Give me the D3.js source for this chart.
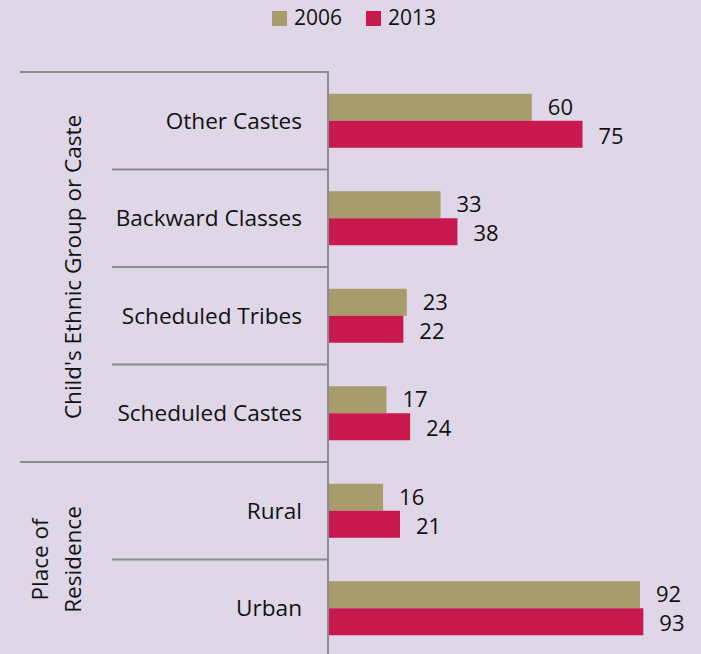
<!DOCTYPE html>
<html>
<head>
<meta charset="utf-8">
<script src="https://cdn.jsdelivr.net/npm/d3@7"></script>
<style>
  html, body { margin: 0; padding: 0; background: #dfd7e7; }
  svg text { font-family: "Open Sans", "Noto Sans", sans-serif; fill: #111; }
</style>
</head>
<body>
<div id="chart"></div>
<script>
// chart data
var categories = ["Other Castes", "Backward Classes", "Scheduled Tribes", "Scheduled Castes", "Rural", "Urban"];
var values2006 = [60, 33, 23, 17, 16, 92];
var values2013 = [75, 38, 22, 24, 21, 93];
var seriesNames = ["2006", "2013"];
var groupNames = [["Child's Ethnic Group or Caste"], ["Place of", "Residence"]];
var groupSizes = [4, 2];

var width = 701, height = 654;
var colors = ["#a89c6c", "#c8194f"];

var svg = d3.select("#chart").append("svg")
  .attr("width", width)
  .attr("height", height);

// scales
var x = d3.scaleLinear().domain([0, 100]).range([329, 667]);
var y = d3.scaleBand().domain(categories).range([72, 657]);
var inner = d3.scaleBand().domain(seriesNames).range([0, 54]);
var pad = (y.bandwidth() - 54) / 2;

// legend
var legend = svg.append("g");
var legendX = [272, 366];
seriesNames.forEach(function (s, i) {
  legend.append("rect")
    .attr("x", legendX[i]).attr("y", 11)
    .attr("width", 15).attr("height", 15)
    .attr("fill", colors[i]);
  legend.append("text")
    .attr("x", legendX[i] + 22).attr("y", 18)
    .attr("dy", "0.35em")
    .style("font-size", "21px")
    .text(s);
});

// bars
var rows = categories.map(function (c, i) {
  return { cat: c, vals: [values2006[i], values2013[i]] };
});

var row = svg.selectAll(".row")
  .data(rows)
  .enter().append("g")
  .attr("class", "row")
  .attr("transform", function (d) { return "translate(0," + (y(d.cat) + pad) + ")"; });

row.selectAll("rect")
  .data(function (d) { return d.vals; })
  .enter().append("rect")
  .attr("x", x(0))
  .attr("y", function (d, i) { return inner(seriesNames[i]); })
  .attr("width", function (d) { return x(d) - x(0); })
  .attr("height", inner.bandwidth())
  .attr("fill", function (d, i) { return colors[i]; });

row.selectAll(".val")
  .data(function (d) { return d.vals; })
  .enter().append("text")
  .attr("class", "val")
  .attr("x", function (d) { return x(d) + 16; })
  .attr("y", function (d, i) { return inner(seriesNames[i]) + inner.bandwidth() / 2 + (i === 0 ? 0 : 2); })
  .attr("dy", "0.35em")
  .style("font-size", "22px")
  .text(function (d) { return d; });

// category labels
svg.selectAll(".cat")
  .data(categories)
  .enter().append("text")
  .attr("class", "cat")
  .attr("x", 302)
  .attr("y", function (d) { return y(d) + y.bandwidth() / 2; })
  .attr("dy", "0.35em")
  .attr("text-anchor", "end")
  .style("font-size", "22.6px")
  .text(function (d) { return d; });

// separator lines
var lineColor = "#8c8c8c";
var start = 0;
groupSizes.forEach(function (n, g) {
  var top = y(categories[start]);
  svg.append("line")
    .attr("x1", 20).attr("x2", x(0))
    .attr("y1", top).attr("y2", top)
    .attr("stroke", lineColor).attr("stroke-width", 2);
  for (var k = 1; k < n; k++) {
    var yy = y(categories[start + k]);
    svg.append("line")
      .attr("x1", 112).attr("x2", x(0))
      .attr("y1", yy).attr("y2", yy)
      .attr("stroke", lineColor).attr("stroke-width", 2);
  }
  var bottom = y(categories[start + n - 1]) + y.bandwidth();
  var mid = (top + bottom) / 2;
  var lines = groupNames[g];
  var lineGap = 33;
  lines.forEach(function (t, j) {
    var cx = 73 - (lines.length - 1 - j) * lineGap;
    svg.append("text")
      .attr("transform", "translate(" + cx + "," + mid + ") rotate(-90)")
      .attr("text-anchor", "middle")
      .attr("dy", "0.35em")
      .style("font-size", "22.5px")
      .text(t);
  });
  start += n;
});

// axis line
svg.append("line")
  .attr("x1", x(0) - 1).attr("x2", x(0) - 1)
  .attr("y1", 72).attr("y2", height)
  .attr("stroke", lineColor).attr("stroke-width", 2);
</script>
</body>
</html>
